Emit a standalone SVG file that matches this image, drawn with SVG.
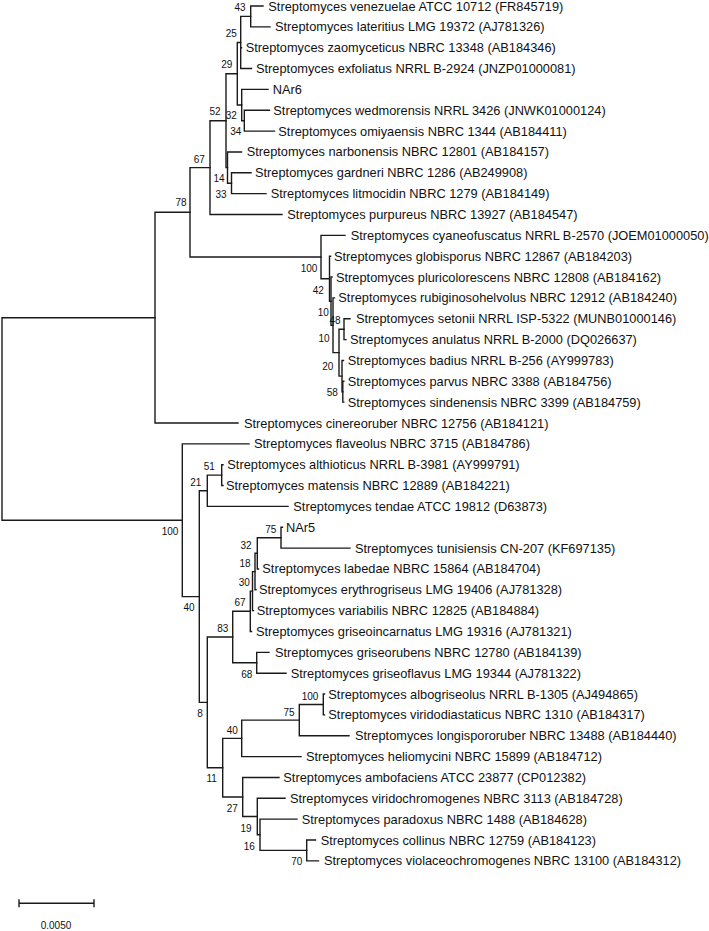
<svg xmlns="http://www.w3.org/2000/svg" width="709" height="931" viewBox="0 0 709 931">
<style>
.br{fill:none;stroke:#1a1a1a;stroke-width:1.4;stroke-linecap:square}
.lf{font-family:"Liberation Sans",Arial,sans-serif;font-size:12.8px;fill:#111}
.bs{font-family:"Liberation Sans",Arial,sans-serif;font-size:10px;fill:#111;text-anchor:middle}
</style>
<rect width="709" height="931" fill="#fff"/>
<g id="connectors" class="br">
<path d="M2,317.7V520.2M2,317.7H155M2,520.2H182.3"/>
<path d="M155,212.3V423M155,212.3H190M155,423H238"/>
<path d="M190,167.6V257M190,167.6H210M190,257H321"/>
<path d="M210,120.7V214.5M210,120.7H226M210,214.5H282"/>
<path d="M226,73.8V167.6M226,73.8H237.3M226,167.6H227.5"/>
<path d="M237.3,42.5V105M237.3,42.5H240.7M237.3,105H241.7"/>
<path d="M240.7,16.4V68.55M240.7,16.4H250.7M240.7,47.7H241.5M240.7,68.55H251.5"/>
<path d="M250.7,6V26.85M250.7,6H263M250.7,26.85H270"/>
<path d="M241.7,89.4V120.7M241.7,89.4H268M241.7,120.7H244.3"/>
<path d="M244.3,110.25V131.1M244.3,110.25H269.5M244.3,131.1H274.5"/>
<path d="M227.5,151.95V183.2M227.5,151.95H241.5M227.5,183.2H231.5"/>
<path d="M231.5,172.8V193.65M231.5,172.8H251M231.5,193.65H266"/>
<path d="M321,235.35V278.7M321,235.35H345M321,278.7H329.5"/>
<path d="M329.5,256.2V301.2M329.5,256.2H330.5M329.5,301.2H331"/>
<path d="M331,277.05V325.3M331,277.05H332M331,325.3H333"/>
<path d="M333,297.9V352.6M333,297.9H334.5M333,352.6H339"/>
<path d="M339,329.2V376.1M339,329.2H344M339,376.1H342"/>
<path d="M344,318.75V339.6M344,318.75H350M344,339.6H346"/>
<path d="M342,360.45V391.7M342,360.45H343.5M342,391.7H342.8"/>
<path d="M342.8,381.3V402.15M342.8,381.3H343.8M342.8,402.15H343.8"/>
<path d="M182.3,443.85V596.6M182.3,443.85H249M182.3,596.6H199.3"/>
<path d="M199.3,490.8V702.4M199.3,490.8H207.3M199.3,702.4H207.3"/>
<path d="M207.3,475.1V506.4M207.3,475.1H221.7M207.3,506.4H288"/>
<path d="M221.7,464.7V485.55M221.7,464.7H223M221.7,485.55H223"/>
<path d="M207.3,637.05V767.7M207.3,637.05H232.7M207.3,767.7H222.7"/>
<path d="M232.7,611.3V662.8M232.7,611.3H250.3M232.7,662.8H256.7"/>
<path d="M250.3,591.1V631.5M250.3,591.1H252.5M250.3,631.5H251.5"/>
<path d="M252.5,571.6V610.65M252.5,571.6H255M252.5,610.65H253.5"/>
<path d="M255,553.3V589.8M255,553.3H257.3M255,589.8H256"/>
<path d="M257.3,537.7V568.95M257.3,537.7H281M257.3,568.95H258.5"/>
<path d="M281,527.25V548.1M281,527.25H282.5M281,548.1H350"/>
<path d="M256.7,652.35V673.2M256.7,652.35H269M256.7,673.2H286"/>
<path d="M222.7,738.4V797M222.7,738.4H241.7M222.7,797H242.7"/>
<path d="M241.7,720.1V756.6M241.7,720.1H299.3M241.7,756.6H301"/>
<path d="M299.3,704.5V735.75M299.3,704.5H323.3M299.3,735.75H349"/>
<path d="M323.3,694.05V714.9M323.3,694.05H324.5M323.3,714.9H324.5"/>
<path d="M242.7,777.45V816.5M242.7,777.45H279M242.7,816.5H257.3"/>
<path d="M257.3,798.3V834.8M257.3,798.3H285M257.3,834.8H260"/>
<path d="M260,819.15V850.4M260,819.15H297M260,850.4H306.7"/>
<path d="M306.7,840V860.85M306.7,840H315.5M306.7,860.85H318.5"/>
</g>
<g id="leaves" class="lf">
<g id="l1"><text x="268.3" y="10.5">Streptomyces venezuelae ATCC 10712 (FR845719)</text></g>
<g id="l2"><text x="275" y="31.35">Streptomyces lateritius LMG 19372 (AJ781326)</text></g>
<g id="l3"><text x="245.7" y="52.2">Streptomyces zaomyceticus NBRC 13348 (AB184346)</text></g>
<g id="l4"><text x="256" y="73.05">Streptomyces exfoliatus NRRL B-2924 (JNZP01000081)</text></g>
<g id="l5"><text x="272.7" y="93.9">NAr6</text></g>
<g id="l6"><text x="273.3" y="114.75">Streptomyces wedmorensis NRRL 3426 (JNWK01000124)</text></g>
<g id="l7"><text x="278.3" y="135.6">Streptomyces omiyaensis NBRC 1344 (AB184411)</text></g>
<g id="l8"><text x="246.7" y="156.45">Streptomyces narbonensis NBRC 12801 (AB184157)</text></g>
<g id="l9"><text x="255" y="177.3">Streptomyces gardneri NBRC 1286 (AB249908)</text></g>
<g id="l10"><text x="270.7" y="198.15">Streptomyces litmocidin NBRC 1279 (AB184149)</text></g>
<g id="l11"><text x="287.3" y="219">Streptomyces purpureus NBRC 13927 (AB184547)</text></g>
<g id="l12"><text x="350.7" y="239.85">Streptomyces cyaneofuscatus NRRL B-2570 (JOEM01000050)</text></g>
<g id="l13"><text x="334" y="260.7">Streptomyces globisporus NBRC 12867 (AB184203)</text></g>
<g id="l14"><text x="336" y="281.55">Streptomyces pluricolorescens NBRC 12808 (AB184162)</text></g>
<g id="l15"><text x="338.3" y="302.4">Streptomyces rubiginosohelvolus NBRC 12912 (AB184240)</text></g>
<g id="l16"><text x="356" y="323.25">Streptomyces setonii NRRL ISP-5322 (MUNB01000146)</text></g>
<g id="l17"><text x="350" y="344.1">Streptomyces anulatus NRRL B-2000 (DQ026637)</text></g>
<g id="l18"><text x="347.7" y="364.95">Streptomyces badius NRRL B-256 (AY999783)</text></g>
<g id="l19"><text x="347.7" y="385.8">Streptomyces parvus NBRC 3388 (AB184756)</text></g>
<g id="l20"><text x="347.7" y="406.65">Streptomyces sindenensis NBRC 3399 (AB184759)</text></g>
<g id="l21"><text x="244" y="427.5">Streptomyces cinereoruber NBRC 12756 (AB184121)</text></g>
<g id="l22"><text x="254" y="448.35">Streptomyces flaveolus NBRC 3715 (AB184786)</text></g>
<g id="l23"><text x="227.3" y="469.2">Streptomyces althioticus NRRL B-3981 (AY999791)</text></g>
<g id="l24"><text x="226" y="490.05">Streptomyces matensis NBRC 12889 (AB184221)</text></g>
<g id="l25"><text x="293.3" y="510.9">Streptomyces tendae ATCC 19812 (D63873)</text></g>
<g id="l26"><text x="286" y="531.75">NAr5</text></g>
<g id="l27"><text x="355" y="552.6">Streptomyces tunisiensis CN-207 (KF697135)</text></g>
<g id="l28"><text x="262.3" y="573.45">Streptomyces labedae NBRC 15864 (AB184704)</text></g>
<g id="l29"><text x="259" y="594.3">Streptomyces erythrogriseus LMG 19406 (AJ781328)</text></g>
<g id="l30"><text x="256.7" y="615.15">Streptomyces variabilis NBRC 12825 (AB184884)</text></g>
<g id="l31"><text x="256" y="636">Streptomyces griseoincarnatus LMG 19316 (AJ781321)</text></g>
<g id="l32"><text x="275" y="656.85">Streptomyces griseorubens NBRC 12780 (AB184139)</text></g>
<g id="l33"><text x="290.7" y="677.7">Streptomyces griseoflavus LMG 19344 (AJ781322)</text></g>
<g id="l34"><text x="328.3" y="698.55">Streptomyces albogriseolus NRRL B-1305 (AJ494865)</text></g>
<g id="l35"><text x="328.3" y="719.4">Streptomyces viridodiastaticus NBRC 1310 (AB184317)</text></g>
<g id="l36"><text x="355" y="740.25">Streptomyces longispororuber NBRC 13488 (AB184440)</text></g>
<g id="l37"><text x="306" y="761.1">Streptomyces heliomycini NBRC 15899 (AB184712)</text></g>
<g id="l38"><text x="283.3" y="781.95">Streptomyces ambofaciens ATCC 23877 (CP012382)</text></g>
<g id="l39"><text x="290" y="802.8">Streptomyces viridochromogenes NBRC 3113 (AB184728)</text></g>
<g id="l40"><text x="301.7" y="823.65">Streptomyces paradoxus NBRC 1488 (AB184628)</text></g>
<g id="l41"><text x="320.7" y="844.5">Streptomyces collinus NBRC 12759 (AB184123)</text></g>
<g id="l42"><text x="324" y="865.35">Streptomyces violaceochromogenes NBRC 13100 (AB184312)</text></g>
</g>
<g id="bootstrap" class="bs">
<g id="b43"><text x="240" y="10.9">43</text></g>
<g id="b25"><text x="231.3" y="36.9">25</text></g>
<g id="b29"><text x="226.7" y="67.9">29</text></g>
<g id="b52"><text x="215" y="115.3">52</text></g>
<g id="b32a"><text x="231.3" y="119.3">32</text></g>
<g id="b34"><text x="235.7" y="135.3">34</text></g>
<g id="b67a"><text x="199.3" y="162.6">67</text></g>
<g id="b14"><text x="219" y="181.9">14</text></g>
<g id="b33"><text x="221" y="197.9">33</text></g>
<g id="b78"><text x="181" y="206.3">78</text></g>
<g id="b100a"><text x="309" y="271.9">100</text></g>
<g id="b42"><text x="318.3" y="293.6">42</text></g>
<g id="b10a"><text x="323.3" y="316.3">10</text></g>
<g id="b48"><text x="335" y="323.6">48</text></g>
<g id="b10b"><text x="324" y="341.9">10</text></g>
<g id="b20"><text x="327.7" y="370.3">20</text></g>
<g id="b58"><text x="332.3" y="396.3">58</text></g>
<g id="b51"><text x="209.3" y="470.3">51</text></g>
<g id="b21"><text x="195.7" y="486.3">21</text></g>
<g id="b100b"><text x="170" y="534.6">100</text></g>
<g id="b75a"><text x="270.7" y="532.6">75</text></g>
<g id="b32b"><text x="246" y="548.6">32</text></g>
<g id="b18"><text x="245" y="566.9">18</text></g>
<g id="b30"><text x="244.3" y="585.9">30</text></g>
<g id="b67b"><text x="240" y="605.9">67</text></g>
<g id="b40a"><text x="189" y="611.3">40</text></g>
<g id="b83"><text x="222.7" y="631.9">83</text></g>
<g id="b68"><text x="246.7" y="677.9">68</text></g>
<g id="b100c"><text x="310" y="699.6">100</text></g>
<g id="b75b"><text x="289" y="715.9">75</text></g>
<g id="b8"><text x="200" y="716.9">8</text></g>
<g id="b40b"><text x="232.3" y="733.6">40</text></g>
<g id="b11"><text x="211.7" y="781.9">11</text></g>
<g id="b27"><text x="232.3" y="811.9">27</text></g>
<g id="b19"><text x="246" y="831.9">19</text></g>
<g id="b16"><text x="249.3" y="850.3">16</text></g>
<g id="b70"><text x="296.7" y="865.3">70</text></g>
</g>
<g id="scale">
<path class="br" d="M19,903.3H94M19,900V906.6M94,900V906.6"/>
<text class="bs" x="56" y="929.2">0.0050</text>
</g>
</svg>
